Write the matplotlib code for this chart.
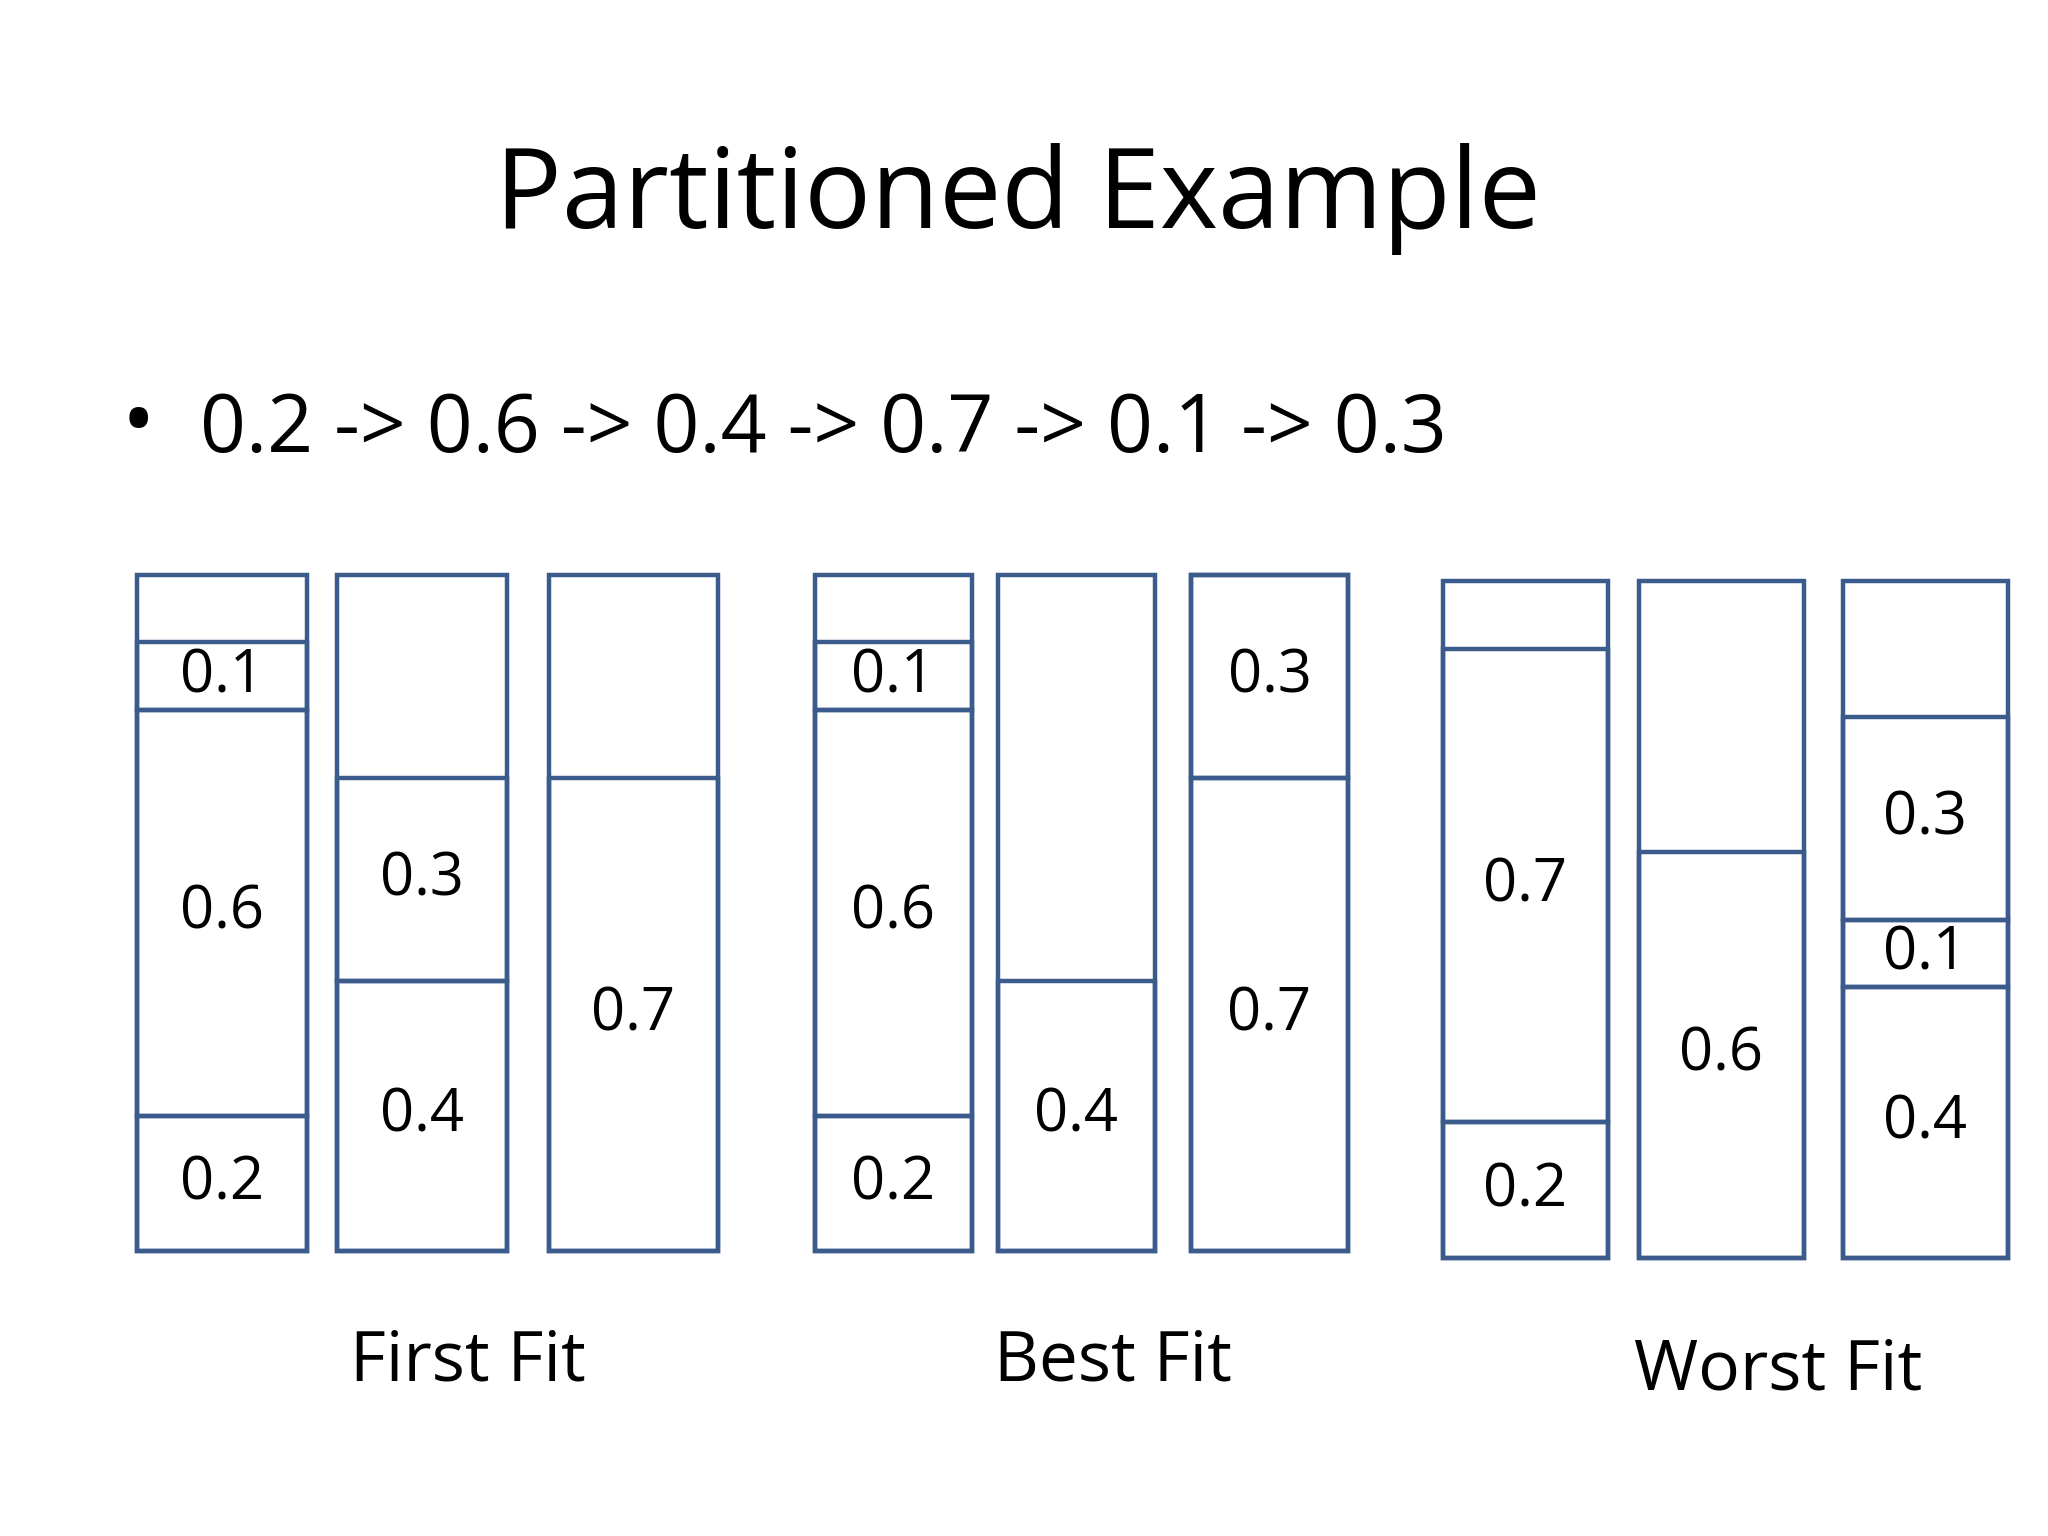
import matplotlib
matplotlib.use("Agg")
import matplotlib.pyplot as plt
from matplotlib.patches import Rectangle

title = "Partitioned Example"
sequence = [0.2, 0.6, 0.4, 0.7, 0.1, 0.3]
group_names = ["First Fit", "Best Fit", "Worst Fit"]
first_fit = [[0.2, 0.6, 0.1], [0.4, 0.3], [0.7]]
best_fit = [[0.2, 0.6, 0.1], [0.4], [0.7, 0.3]]
worst_fit = [[0.2, 0.7], [0.6], [0.4, 0.1, 0.3]]
groups = [first_fit, best_fit, worst_fit]

# layout (display pixel space of 1568x1176 canvas)
W, H = 1568, 1176
group_bin_x = [[105, 258, 420], [624, 764, 912], [1105, 1255, 1411]]
bin_w = [130, 120, 126]
bin_bottom = [958, 958, 963]
bin_top = [440, 440, 445]
label_y = [1043, 1043, 1050]
label_x = [358, 852, 1361]
color = "#3B5B8C"
font = ["Open Sans", "DejaVu Sans"]

fig = plt.figure(figsize=(20.48, 15.36), dpi=100)
ax = fig.add_axes([0, 0, 1, 1])
ax.set_xlim(0, W)
ax.set_ylim(H, 0)
ax.axis("off")

ax.text(W / 2 - 5, 152, title, ha="center", va="center", fontsize=80, family=font)
ax.text(93, 327, "•", ha="left", va="center", fontsize=64, family=font)
ax.text(153, 330, " -> ".join(str(v) for v in sequence), ha="left", va="center",
        fontsize=58, family=font)

for g, bins in enumerate(groups):
    h = bin_bottom[g] - bin_top[g]
    for b, items in enumerate(bins):
        x = group_bin_x[g][b]
        ax.add_patch(Rectangle((x, bin_top[g]), bin_w[g], h, fill=False,
                               ec=color, lw=3.2))
        y = bin_bottom[g]
        for v in items:
            hh = v * h
            ax.add_patch(Rectangle((x, y - hh), bin_w[g], hh, fill=False,
                                   ec=color, lw=3.2))
            ax.text(x + bin_w[g] / 2, y - hh / 2, str(v), ha="center",
                    va="center", fontsize=43, family=font)
            y -= hh
    ax.text(label_x[g], label_y[g], group_names[g], ha="center", va="center",
            fontsize=50, family=font)

fig.savefig("out.png", dpi=100, facecolor="white")
